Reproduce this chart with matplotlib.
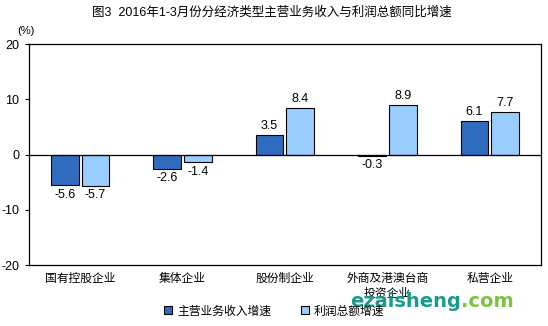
import matplotlib.pyplot as plt
import numpy as np

plt.rcParams['font.family'] = ['Liberation Sans', 'Noto Sans CJK SC']

categories = ['国有控股企业', '集体企业', '股份制企业', '外商及港澳台商\n投资企业', '私营企业']
revenue = [-5.6, -2.6, 3.5, -0.3, 6.1]
profit = [-5.7, -1.4, 8.4, 8.9, 7.7]
series_names = ['主营业务收入增速', '利润总额增速']
yticks = [-20, -10, 0, 10, 20]

dark = '#2F6BBE'
light = '#99CCFF'

fig = plt.figure(figsize=(5.48, 3.26), dpi=100)
ax = fig.add_axes([0.053, 0.187, 0.934, 0.678])

x = np.arange(len(categories))
w = 0.27
b1 = ax.bar(x - w/2 - 0.015, revenue, w, color=dark, edgecolor='black', linewidth=0.8, label=series_names[0])
b2 = ax.bar(x + w/2 + 0.015, profit, w, color=light, edgecolor='black', linewidth=0.8, label=series_names[1])

for bars, vals in [(b1, revenue), (b2, profit)]:
    for r, v in zip(bars, vals):
        cx = r.get_x() + r.get_width()/2
        if v >= 0:
            ax.text(cx, v + 0.6, '{:.1f}'.format(v), ha='center', va='bottom', fontsize=9)
        else:
            ax.text(cx, v - 0.6, '{:.1f}'.format(v), ha='center', va='top', fontsize=9)

ax.axhline(0, color='black', linewidth=0.9)
ax.set_xlim(-0.5, 4.5)
ax.set_ylim(-20, 20)
ax.set_yticks(yticks)
ax.set_yticklabels([str(t) for t in yticks], fontsize=9)
ax.tick_params(axis='y', direction='out', length=3, pad=4)
ax.set_xticks(x)
ax.set_xticklabels(categories, fontsize=8.5, linespacing=1.3, va='top')
ax.tick_params(axis='x', length=0, pad=6)
for s in ax.spines.values():
    s.set_linewidth(0.9)

fig.text(0.048, 0.895, '(%)', fontsize=8, ha='center')
fig.text(0.497, 0.962, '图3  2016年1-3月份分经济类型主营业务收入与利润总额同比增速', fontsize=9, ha='center', va='center')

leg = fig.legend(loc='center', bbox_to_anchor=(0.5, 0.045), ncol=2, frameon=False,
                 fontsize=8.5, handlelength=0.7, handleheight=0.7, columnspacing=2.5, handletextpad=0.4)

# watermark
fig.text(0.842, 0.074, 'ezaisheng', fontsize=14, fontweight='bold', color='#1A9A8A', ha='right', va='center', family='DejaVu Sans')
fig.text(0.842, 0.074, '.com', fontsize=14, fontweight='bold', color='#7DC243', ha='left', va='center', family='DejaVu Sans')

fig.savefig('out.png', dpi=100)
